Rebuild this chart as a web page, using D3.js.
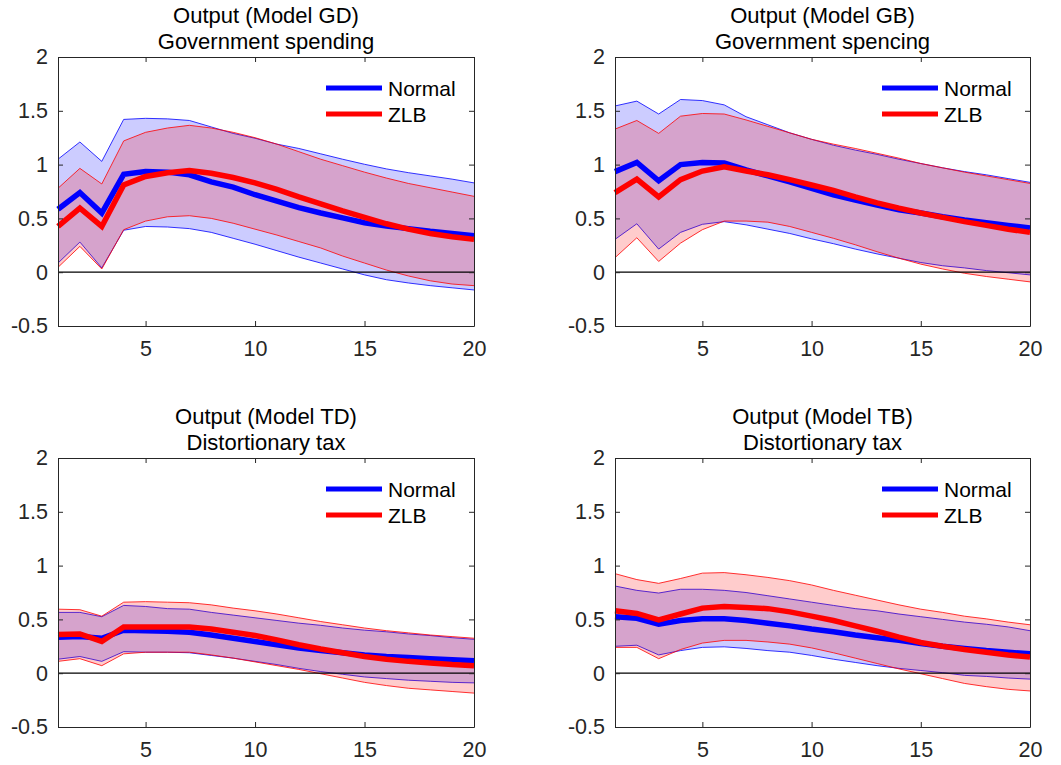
<!DOCTYPE html>
<html>
<head>
<meta charset="utf-8">
<script src="https://cdn.jsdelivr.net/npm/d3@7"></script>
<style>
  html, body { margin: 0; padding: 0; background: #fff; }
  svg { display: block; }
  text { font-family: "Liberation Sans", Arial, Helvetica, sans-serif; }
</style>
</head>
<body>
<svg id="chart" width="1061" height="765"></svg>
<script>
// ---------- data ----------
const periods = [1,2,3,4,5,6,7,8,9,10,11,12,13,14,15,16,17,18,19,20];
const yTickValues = [-0.5, 0, 0.5, 1, 1.5, 2];
const yTickLabels = ["-0.5", "0", "0.5", "1", "1.5", "2"];
const xTickValues = [5, 10, 15, 20];
const xTickLabels = ["5", "10", "15", "20"];
const seriesNames = ["Normal", "ZLB"];

const titlesGD = ["Output (Model GD)", "Government spending"];
const titlesGB = ["Output (Model GB)", "Government spencing"];
const titlesTD = ["Output (Model TD)", "Distortionary tax"];
const titlesTB = ["Output (Model TB)", "Distortionary tax"];

// Model GD
const gdNormal      = [0.585,0.74,0.55,0.91,0.935,0.93,0.905,0.84,0.79,0.72,0.66,0.60,0.55,0.505,0.46,0.43,0.405,0.38,0.36,0.34];
const gdNormalUpper = [1.05,1.21,1.03,1.42,1.43,1.425,1.41,1.35,1.29,1.245,1.19,1.15,1.10,1.05,1.003,0.96,0.925,0.895,0.865,0.83];
const gdNormalLower = [0.085,0.28,0.04,0.39,0.425,0.42,0.405,0.37,0.315,0.26,0.20,0.14,0.085,0.03,-0.025,-0.07,-0.10,-0.125,-0.145,-0.165];
const gdZLB         = [0.425,0.595,0.425,0.81,0.89,0.925,0.945,0.92,0.88,0.83,0.77,0.70,0.635,0.57,0.51,0.45,0.40,0.36,0.33,0.305];
const gdZLBUpper    = [0.78,0.965,0.82,1.22,1.30,1.34,1.365,1.34,1.30,1.25,1.19,1.12,1.05,0.99,0.93,0.875,0.825,0.785,0.745,0.705];
const gdZLBLower    = [0.045,0.24,0.03,0.395,0.475,0.515,0.525,0.50,0.455,0.40,0.345,0.285,0.225,0.15,0.085,0.02,-0.035,-0.08,-0.11,-0.125];

// Model GB
const gbNormal      = [0.935,1.02,0.85,1.00,1.02,1.015,0.95,0.895,0.84,0.78,0.72,0.67,0.625,0.58,0.55,0.515,0.485,0.46,0.435,0.41];
const gbNormalUpper = [1.545,1.59,1.47,1.605,1.595,1.555,1.445,1.37,1.295,1.235,1.18,1.135,1.095,1.05,1.01,0.97,0.935,0.905,0.87,0.835];
const gbNormalLower = [0.305,0.45,0.215,0.37,0.445,0.47,0.44,0.40,0.36,0.31,0.265,0.215,0.17,0.13,0.09,0.06,0.04,0.015,-0.005,-0.025];
const gbZLB         = [0.74,0.865,0.70,0.86,0.94,0.98,0.94,0.905,0.86,0.81,0.76,0.70,0.645,0.595,0.55,0.51,0.47,0.435,0.40,0.37];
const gbZLBUpper    = [1.33,1.41,1.29,1.45,1.475,1.47,1.415,1.355,1.295,1.235,1.19,1.15,1.105,1.06,1.01,0.97,0.93,0.895,0.86,0.825];
const gbZLBLower    = [0.135,0.32,0.10,0.27,0.395,0.475,0.475,0.465,0.425,0.37,0.315,0.255,0.19,0.13,0.075,0.03,-0.01,-0.04,-0.065,-0.09];

// Model TD
const tdNormal      = [0.335,0.34,0.325,0.40,0.395,0.39,0.38,0.355,0.325,0.295,0.265,0.235,0.21,0.19,0.17,0.155,0.145,0.135,0.125,0.115];
const tdNormalUpper = [0.565,0.565,0.525,0.63,0.62,0.60,0.595,0.565,0.54,0.515,0.49,0.465,0.445,0.42,0.40,0.385,0.365,0.35,0.33,0.315];
const tdNormalLower = [0.13,0.155,0.11,0.20,0.195,0.195,0.19,0.165,0.14,0.11,0.08,0.045,0.015,-0.01,-0.035,-0.05,-0.065,-0.075,-0.085,-0.09];
const tdZLB         = [0.36,0.365,0.295,0.43,0.43,0.43,0.43,0.41,0.38,0.35,0.31,0.265,0.225,0.19,0.155,0.13,0.11,0.095,0.08,0.07];
const tdZLBUpper    = [0.595,0.59,0.53,0.66,0.665,0.66,0.655,0.635,0.605,0.58,0.55,0.515,0.48,0.45,0.42,0.395,0.375,0.355,0.34,0.325];
const tdZLBLower    = [0.11,0.135,0.07,0.18,0.195,0.195,0.195,0.17,0.14,0.105,0.07,0.035,-0.005,-0.045,-0.085,-0.115,-0.14,-0.155,-0.17,-0.185];

// Model TB
const tbNormal      = [0.525,0.51,0.455,0.49,0.505,0.505,0.49,0.465,0.44,0.41,0.385,0.355,0.33,0.305,0.275,0.25,0.23,0.21,0.195,0.18];
const tbNormalUpper = [0.81,0.77,0.745,0.78,0.78,0.77,0.75,0.72,0.69,0.66,0.63,0.60,0.58,0.55,0.525,0.50,0.475,0.455,0.43,0.395];
const tbNormalLower = [0.25,0.26,0.17,0.21,0.24,0.245,0.23,0.21,0.195,0.165,0.13,0.10,0.07,0.045,0.025,0.005,-0.02,-0.03,-0.045,-0.055];
const tbZLB         = [0.58,0.555,0.495,0.55,0.605,0.62,0.61,0.60,0.57,0.53,0.49,0.44,0.39,0.335,0.285,0.25,0.22,0.195,0.17,0.15];
const tbZLBUpper    = [0.925,0.87,0.835,0.88,0.93,0.935,0.915,0.89,0.86,0.82,0.77,0.725,0.68,0.635,0.595,0.565,0.53,0.505,0.475,0.45];
const tbZLBLower    = [0.24,0.24,0.135,0.22,0.28,0.305,0.305,0.29,0.27,0.235,0.19,0.14,0.09,0.04,-0.005,-0.05,-0.095,-0.125,-0.15,-0.165];

// ---------- layout ----------
const panels = [
  {titles: titlesGD, left: 58,  right: 474,  top: 57,  bottom: 326,
   normal: gdNormal, nU: gdNormalUpper, nL: gdNormalLower, zlb: gdZLB, zU: gdZLBUpper, zL: gdZLBLower},
  {titles: titlesGB, left: 615, right: 1030, top: 57,  bottom: 326,
   normal: gbNormal, nU: gbNormalUpper, nL: gbNormalLower, zlb: gbZLB, zU: gbZLBUpper, zL: gbZLBLower},
  {titles: titlesTD, left: 58,  right: 474,  top: 458, bottom: 727,
   normal: tdNormal, nU: tdNormalUpper, nL: tdNormalLower, zlb: tdZLB, zU: tdZLBUpper, zL: tdZLBLower},
  {titles: titlesTB, left: 615, right: 1030, top: 458, bottom: 727,
   normal: tbNormal, nU: tbNormalUpper, nL: tbNormalLower, zlb: tbZLB, zU: tbZLBUpper, zL: tbZLBLower}
];

const BLUE = "#0000ff", RED = "#ff0000", AXIS = "#262626";
const TICK_FONT = 21.5, TITLE_FONT = 22, LEGEND_FONT = 21;

const svg = d3.select("#chart");

panels.forEach((p, idx) => {
  const w = p.right - p.left, h = p.bottom - p.top;
  const g = svg.append("g").attr("transform", `translate(${p.left},${p.top})`);
  const x = d3.scaleLinear().domain([1, 20]).range([0, w]);
  const y = d3.scaleLinear().domain([-0.5, 2]).range([h, 0]);

  const clipId = "clip" + idx;
  g.append("clipPath").attr("id", clipId).append("rect").attr("width", w).attr("height", h);
  const plot = g.append("g").attr("clip-path", `url(#${clipId})`);

  const area = (up, lo) => d3.area().x((d, i) => x(periods[i])).y0((d, i) => y(lo[i])).y1((d, i) => y(up[i]))(periods);
  const line = (vals) => d3.line().x((d, i) => x(periods[i])).y((d, i) => y(vals[i]))(periods);

  // blue band
  plot.append("path").attr("d", area(p.nU, p.nL)).attr("fill", BLUE).attr("fill-opacity", 0.2).attr("stroke", "none");
  plot.append("path").attr("d", line(p.nU)).attr("fill", "none").attr("stroke", BLUE).attr("stroke-width", 0.8);
  plot.append("path").attr("d", line(p.nL)).attr("fill", "none").attr("stroke", BLUE).attr("stroke-width", 0.8);
  // red band
  plot.append("path").attr("d", area(p.zU, p.zL)).attr("fill", RED).attr("fill-opacity", 0.2).attr("stroke", "none");
  plot.append("path").attr("d", line(p.zU)).attr("fill", "none").attr("stroke", RED).attr("stroke-width", 0.8);
  plot.append("path").attr("d", line(p.zL)).attr("fill", "none").attr("stroke", RED).attr("stroke-width", 0.8);

  // zero line
  plot.append("line").attr("x1", 0).attr("x2", w).attr("y1", y(0)).attr("y2", y(0))
    .attr("stroke", "#000").attr("stroke-width", 1.2);

  // main lines
  g.append("path").attr("d", line(p.normal)).attr("fill", "none").attr("stroke", BLUE).attr("stroke-width", 5.5);
  g.append("path").attr("d", line(p.zlb)).attr("fill", "none").attr("stroke", RED).attr("stroke-width", 5.5);

  // axes
  const styleAxis = (sel) => {
    sel.selectAll("path.domain").attr("stroke", AXIS).attr("stroke-width", 1);
    sel.selectAll(".tick line").attr("stroke", AXIS);
    sel.selectAll(".tick text").attr("fill", AXIS).style("font-size", TICK_FONT + "px")
      .style("font-family", '"Liberation Sans", Arial, sans-serif');
  };
  g.append("g").attr("transform", `translate(0,${h})`)
    .call(d3.axisBottom(x).tickValues(xTickValues).tickFormat((d, i) => xTickLabels[i]).tickSizeInner(-5).tickSizeOuter(0).tickPadding(15))
    .call(styleAxis);
  g.append("g")
    .call(d3.axisTop(x).tickValues(xTickValues).tickFormat("").tickSizeInner(-5).tickSizeOuter(0))
    .call(styleAxis);
  g.append("g")
    .call(d3.axisLeft(y).tickValues(yTickValues).tickFormat((d, i) => yTickLabels[i]).tickSizeInner(-5).tickSizeOuter(0).tickPadding(10))
    .call(styleAxis);
  g.append("g").attr("transform", `translate(${w},0)`)
    .call(d3.axisRight(y).tickValues(yTickValues).tickFormat("").tickSizeInner(-5).tickSizeOuter(0))
    .call(styleAxis);
  g.selectAll(".domain").attr("fill", "none");

  // titles
  g.append("text").attr("x", w / 2).attr("y", -34).attr("text-anchor", "middle")
    .attr("fill", "#000").style("font-size", TITLE_FONT + "px").text(p.titles[0]);
  g.append("text").attr("x", w / 2).attr("y", -8).attr("text-anchor", "middle")
    .attr("fill", "#000").style("font-size", TITLE_FONT + "px").text(p.titles[1]);

  // legend
  const legColors = [BLUE, RED];
  seriesNames.forEach((name, i) => {
    const ly = 31 + i * 26;
    g.append("line").attr("x1", w - 148).attr("x2", w - 92).attr("y1", ly).attr("y2", ly)
      .attr("stroke", legColors[i]).attr("stroke-width", 5);
    g.append("text").attr("x", w - 86).attr("y", ly).attr("dy", "0.36em")
      .attr("fill", "#000").style("font-size", LEGEND_FONT + "px").text(name);
  });
});
</script>
</body>
</html>
